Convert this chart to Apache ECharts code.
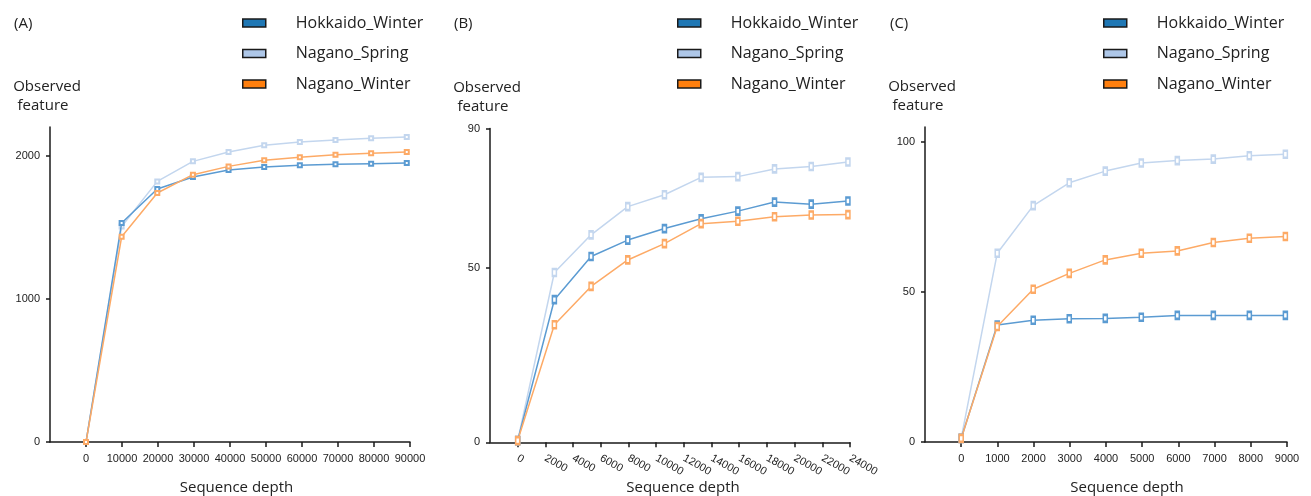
<!DOCTYPE html>
<html>
<head>
<meta charset="utf-8">
<style>html,body{margin:0;padding:0;background:#fff;}#c{width:1311px;height:496px;}</style>
<script src="https://cdn.jsdelivr.net/npm/echarts@6/dist/echarts.min.js"></script>
</head>
<body>
<div id="c"></div>
<script>
// ---- data ----
const seriesNames = ['Hokkaido_Winter', 'Nagano_Spring', 'Nagano_Winter'];
const panelLabels = ['(A)', '(B)', '(C)'];

// Panel A
const depthA = [0, 9900, 19800, 29700, 39600, 49500, 59400, 69300, 79200, 89100];
const hokkaidoA = [0, 1529, 1767, 1851, 1900, 1921, 1932, 1939, 1944, 1949];
const springA   = [0, 1505, 1820, 1960, 2026, 2072, 2096, 2110, 2121, 2131];
const winterA   = [0, 1433, 1739, 1867, 1925, 1967, 1988, 2007, 2016, 2026];
const xTicksA = [0, 10000, 20000, 30000, 40000, 50000, 60000, 70000, 80000, 90000];
const yTicksA = [0, 1000, 2000];

// Panel B
const depthB = [0, 2650, 5300, 7950, 10600, 13250, 15900, 18550, 21200, 23850];
const hokkaidoB = [0.5, 40.9, 53.3, 58.0, 61.3, 64.1, 66.3, 68.9, 68.3, 69.2];
const springB   = [0.5, 48.7, 59.5, 67.6, 71.0, 76.0, 76.2, 78.4, 79.1, 80.4];
const winterB   = [0.5, 33.7, 44.7, 52.3, 57.0, 62.7, 63.4, 64.7, 65.2, 65.3];
const xTicksB = [0, 2000, 4000, 6000, 8000, 10000, 12000, 14000, 16000, 18000, 20000, 22000, 24000];
const yTicksB = [0, 50, 90];

// Panel C
const depthC = [0, 995, 1990, 2985, 3980, 4975, 5970, 6965, 7960, 8955];
const hokkaidoC = [1.2, 39.0, 40.6, 41.1, 41.2, 41.6, 42.2, 42.2, 42.2, 42.2];
const springC   = [1.2, 62.9, 78.8, 86.4, 90.3, 93.0, 93.8, 94.3, 95.4, 95.9];
const winterC   = [1.2, 38.5, 50.9, 56.2, 60.7, 62.9, 63.7, 66.5, 67.9, 68.5];
const xTicksC = [0, 1000, 2000, 3000, 4000, 5000, 6000, 7000, 8000, 9000];
const yTicksC = [0, 50, 100];

// ---- styles ----
const legendColors = ['#1f77b4', '#aec7e8', '#ff7f0e'];
const lineColors = ['#5b9bd2', '#c3d6ee', '#fdaa66'];
const textFont = 'Open Sans';
const tickFont = 'Liberation Sans';

const grids = [
  {left: 50, top: 127, width: 360, height: 315, outerBoundsMode: 'none'},
  {left: 490, top: 128.5, width: 360, height: 313.8, outerBoundsMode: 'none'},
  {left: 925, top: 127, width: 362, height: 315, outerBoundsMode: 'none'}
];
const xRanges = [[-10000, 90000, 10000], [-2000, 24000, 2000], [-1000, 9000, 1000]];
const yRanges = [[0, 2200], [0, 90], [0, 105]];
const xTickSets = [xTicksA, xTicksB, xTicksC];
const yTickSets = [yTicksA, yTicksB, yTicksC];
const nameShift = [13, 26, 42];
const legendLeft = [237, 672, 1098];

const depths = [depthA, depthB, depthC];
const values = [
  [hokkaidoA, springA, winterA],
  [hokkaidoB, springB, winterB],
  [hokkaidoC, springC, winterC]
];

const axisLineStyle = {color: '#1a1a1a', width: 1.5};
const plain = v => String(v);

const xAxes = [], yAxes = [], series = [], legends = [], titles = [];
for (let p = 0; p < 3; p++) {
  xAxes.push({
    type: 'value', gridIndex: p,
    min: xRanges[p][0], max: xRanges[p][1], interval: xRanges[p][2],
    splitLine: {show: false},
    axisLine: {show: true, onZero: false, lineStyle: axisLineStyle},
    axisTick: {show: true, length: 5, lineStyle: axisLineStyle, customValues: xTickSets[p]},
    axisLabel: {
      customValues: xTickSets[p],
      formatter: plain,
      fontFamily: tickFont, fontSize: 11, color: '#222',
      margin: p === 1 ? 15 : 11,
      rotate: p === 1 ? -30 : 0
    },
    name: 'Sequence depth', nameLocation: 'middle', nameGap: 38, nameMoveOverlap: false,
    nameTextStyle: {fontFamily: textFont, fontSize: 15, color: '#222', padding: [0, 0, 0, nameShift[p]]}
  });
  yAxes.push({
    type: 'value', gridIndex: p,
    min: yRanges[p][0], max: yRanges[p][1],
    splitLine: {show: false},
    axisLine: {show: true, onZero: false, lineStyle: axisLineStyle},
    axisTick: {show: true, length: 4, lineStyle: axisLineStyle, customValues: yTickSets[p]},
    axisLabel: {customValues: yTickSets[p], formatter: plain, fontFamily: tickFont, fontSize: 11, color: '#222', margin: 10},
    name: '{a|Observed}\n{b|feature}', nameLocation: 'end', nameGap: 12,
    nameTextStyle: {
      align: 'center', verticalAlign: 'bottom', padding: [0, 6, 0, 0],
      rich: {
        a: {fontFamily: textFont, fontSize: 15, color: '#222', lineHeight: 19},
        b: {fontFamily: textFont, fontSize: 15, color: '#222', lineHeight: 19, padding: [0, 8, 0, 0]}
      }
    }
  });
  for (let s = 0; s < 3; s++) {
    series.push({
      type: 'line', name: seriesNames[s],
      xAxisIndex: p, yAxisIndex: p,
      data: depths[p].map((d, i) => [d, values[p][s][i]]),
      color: legendColors[s],
      symbol: 'emptyRect',
      symbolSize: p === 0 ? [4, 4] : [4, 7],
      showSymbol: true,
      itemStyle: {color: lineColors[s], borderColor: lineColors[s], borderWidth: 1},
      lineStyle: {color: lineColors[s], width: 1.5},
      z: s === 1 ? 1 : 2,
      animation: false
    });
  }
  legends.push({
    orient: 'vertical', left: legendLeft[p], top: 10,
    itemWidth: 23, itemHeight: 8, itemGap: 14.5,
    icon: 'rect',
    selectedMode: false,
    data: seriesNames.map((n, i) => ({
      name: n,
      itemStyle: {color: legendColors[i], borderColor: '#1a1a1a', borderWidth: 1.5, opacity: 1}
    })),
    textStyle: {fontFamily: textFont, fontSize: 16, color: '#222', padding: [0, 0, 0, 25]}
  });
  titles.push({
    text: panelLabels[p],
    left: [9, 449, 885][p], top: 11,
    textStyle: {fontFamily: textFont, fontSize: 15, fontWeight: 'normal', color: '#222'}
  });
}

const chart = echarts.init(document.getElementById('c'), null, {renderer: 'canvas'});
chart.setOption({
  backgroundColor: '#fff',
  animation: false,
  title: titles,
  legend: legends,
  grid: grids,
  xAxis: xAxes,
  yAxis: yAxes,
  series: series
});
</script>
</body>
</html>
